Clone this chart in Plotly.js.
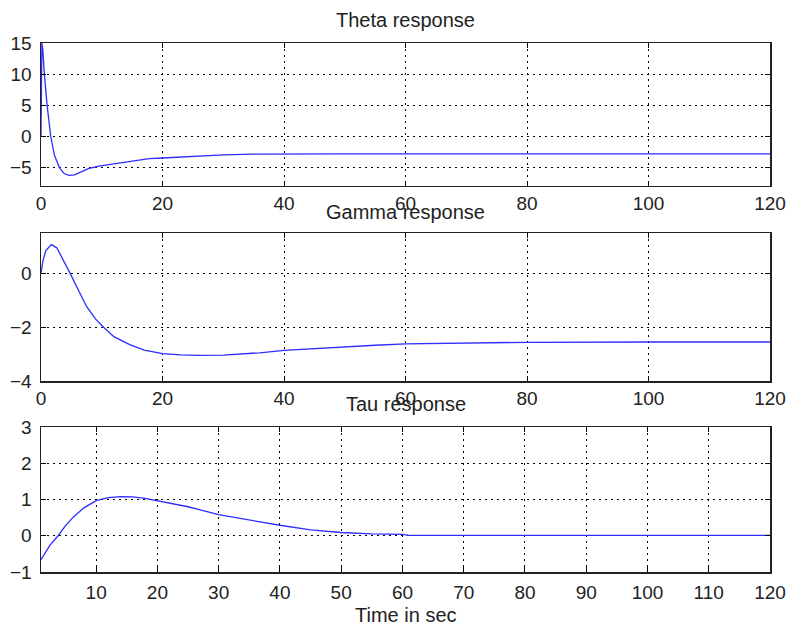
<!DOCTYPE html>
<html>
<head>
<meta charset="utf-8">
<script src="https://cdn.plot.ly/plotly-3.0.1.min.js"></script>
<style>html,body{margin:0;padding:0;background:#fff;}#chart{width:788px;height:627px;}</style>
</head>
<body>
<div id="chart"></div>
<script>
// Theta response
const thetaT = [0, 0.15, 0.3, 0.55, 1.0, 1.6, 2.2, 3.0, 3.8, 4.6, 5.5, 6.5, 7.8, 9.5, 11.7, 14, 17.8, 20, 25, 30, 35, 40, 50, 60, 80, 100, 120];
const thetaY = [0, 15, 14, 10, 5, 0, -3, -5, -6, -6.3, -6.2, -5.8, -5.2, -4.8, -4.5, -4.1, -3.6, -3.5, -3.2, -3.0, -2.88, -2.84, -2.82, -2.82, -2.82, -2.82, -2.82];
// Gamma response
const gammaT = [0, 0.3, 0.8, 1.7, 2.6, 3.7, 4.8, 6, 7.5, 9, 10.3, 12, 14.6, 17, 20, 23, 26, 30, 33, 36, 40, 45, 50, 55, 60, 70, 80, 100, 120];
const gammaY = [0, 0.45, 0.85, 1.07, 0.95, 0.5, 0, -0.55, -1.23, -1.7, -2.0, -2.35, -2.65, -2.85, -2.98, -3.03, -3.05, -3.04, -3.0, -2.95, -2.86, -2.79, -2.72, -2.67, -2.62, -2.58, -2.56, -2.55, -2.55];
// Tau response
const tauT = [1, 2.5, 3.8, 5, 6.3, 8, 10, 12, 14, 16, 18, 20, 25, 30, 35, 40, 45, 50, 55, 60, 61, 70, 80, 100, 120];
const tauY = [-0.66, -0.25, 0, 0.28, 0.52, 0.77, 0.97, 1.05, 1.08, 1.07, 1.03, 0.97, 0.8, 0.58, 0.43, 0.29, 0.16, 0.09, 0.05, 0.04, 0.01, 0.01, 0.01, 0.01, 0.01];

const titles = ["Theta response", "Gamma response", "Tau response"];
const xLabel = "Time in sec";
const thetaTicks = [-5, 0, 5, 10, 15];
const gammaTicks = [-4, -2, 0];
const tauTicks = [-1, 0, 1, 2, 3];
const xTicksTop = [0, 20, 40, 60, 80, 100, 120];
const xTicksBottom = [10, 20, 30, 40, 50, 60, 70, 80, 90, 100, 110, 120];

const lineStyle = {color: 'rgb(45,45,255)', width: 1.3};
const traces = [
  {x: thetaT, y: thetaY, xaxis: 'x', yaxis: 'y', mode: 'lines', line: lineStyle},
  {x: gammaT, y: gammaY, xaxis: 'x2', yaxis: 'y2', mode: 'lines', line: lineStyle},
  {x: tauT, y: tauY, xaxis: 'x3', yaxis: 'y3', mode: 'lines', line: lineStyle}
];

const font = {family: 'Liberation Sans, Arial, sans-serif', size: 19, color: '#222'};
const titleFont = {family: 'Liberation Sans, Arial, sans-serif', size: 20, color: '#222'};
function ax(extra) {
  return Object.assign({
    showline: true, mirror: 'ticks', linecolor: '#222', linewidth: 1.5,
    ticks: 'inside', ticklen: 5, tickcolor: '#000',
    showgrid: true, gridcolor: '#000', gridwidth: 1, griddash: '2px,4px',
    zeroline: false, tickfont: font, fixedrange: true
  }, extra);
}

const layout = {
  width: 788, height: 627,
  margin: {l: 41, r: 18, t: 43, b: 55},
  paper_bgcolor: '#fff', plot_bgcolor: '#fff',
  showlegend: false,
  font: font,
  xaxis: ax({domain: [0, 1], range: [0, 120], tickvals: xTicksTop, anchor: 'y'}),
  yaxis: ax({domain: [0.7297, 1], range: [-8, 15], tickvals: thetaTicks, anchor: 'x', ticklabelstandoff: 4}),
  xaxis2: ax({domain: [0, 1], range: [0, 120], tickvals: xTicksTop, anchor: 'y2'}),
  yaxis2: ax({domain: [0.361, 0.6408], range: [-4, 1.5], tickvals: gammaTicks, anchor: 'x2', ticklabelstandoff: 4}),
  xaxis3: ax({domain: [0, 1], range: [1, 120], tickvals: xTicksBottom, anchor: 'y3', ticklabelstandoff: 3}),
  yaxis3: ax({domain: [0, 0.2741], range: [-1, 3], tickvals: tauTicks, anchor: 'x3', ticklabelstandoff: 4}),
  annotations: [
    {text: titles[0], xref: 'paper', yref: 'paper', x: 0.5, y: 1.0435, showarrow: false, font: titleFont, xanchor: 'center', yanchor: 'middle'},
    {text: titles[1], xref: 'paper', yref: 'paper', x: 0.5, y: 0.6805, showarrow: false, font: titleFont, xanchor: 'center', yanchor: 'middle'},
    {text: titles[2], xref: 'paper', yref: 'paper', x: 0.5, y: 0.3176, showarrow: false, font: titleFont, xanchor: 'center', yanchor: 'middle'},
    {text: xLabel, xref: 'paper', yref: 'paper', x: 0.5, y: -0.081, showarrow: false, font: titleFont, xanchor: 'center', yanchor: 'middle'}
  ]
};

Plotly.newPlot('chart', traces, layout, {staticPlot: true, displayModeBar: false});
</script>
</body>
</html>
